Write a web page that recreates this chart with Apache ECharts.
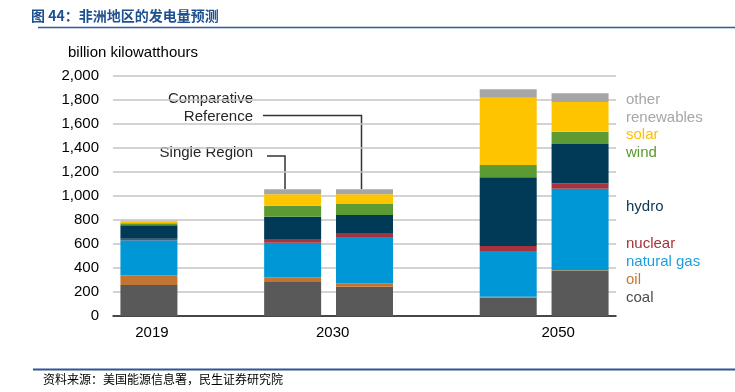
<!DOCTYPE html>
<html>
<head>
<meta charset="utf-8">
<script src="https://cdn.jsdelivr.net/npm/echarts@6/dist/echarts.min.js"></script>
<style>
html,body{margin:0;padding:0;background:#fff;}
#chart{width:735px;height:392px;}
</style>
</head>
<body>
<div id="chart"></div>
<script>
// Slots: 2019 | gap | 2030 Single Region | 2030 Comparative Reference | gap | 2050 Single Region | 2050 Comparative Reference
const categories = ['2019', 'gap1', '2030 Single Region', '2030 Comparative Reference', 'gap2', '2050 Single Region', '2050 Comparative Reference'];
const tickLabels = ['2019', '', '2030', '', '', '2050', ''];
const yTicks = [0, 200, 400, 600, 800, 1000, 1200, 1400, 1600, 1800, 2000];

const coal       = [258, null, 289, 244, null, 153, 375];
const oil        = [ 80, null,  33,  28, null,   8,   6];
const naturalGas = [294, null, 289, 386, null, 381, 680];
const nuclear    = [ 12, null,  25,  28, null,  41,  45];
const hydro      = [112, null, 192, 156, null, 573, 327];
const wind       = [ 17, null,  91,  91, null, 102, 103];
const solar      = [ 16, null,  95,  81, null, 561, 248];
const other      = [  4, null,  42,  42, null,  70,  72];

const seriesNames = ['coal', 'oil', 'natural gas', 'nuclear', 'hydro', 'wind', 'solar', 'other renewables'];
const seriesData = [coal, oil, naturalGas, nuclear, hydro, wind, solar, other];
const seriesColors = ['#595959', '#c27530', '#0097d7', '#a5343f', '#003a57', '#5c9a33', '#ffc400', '#a6a6a6'];

const FONT = '"Liberation Sans", Arial, sans-serif';
const chart = echarts.init(document.getElementById('chart'), null, {renderer: 'canvas'});

const labelShift = {0: 6, 2: 80, 5: 100};
const rich = {};
Object.keys(labelShift).forEach(k => { rich['s' + k] = {padding: [0, 0, 0, labelShift[k]], fontSize: 15, fontFamily: FONT, color: '#000'}; });

function txt(text, x, y, color, opts) {
  return Object.assign({
    type: 'text', x: x, y: y, silent: true,
    style: Object.assign({
      text: text, fill: color, font: '15px ' + FONT,
      align: 'left', textAlign: 'left', verticalAlign: 'middle', textVerticalAlign: 'middle'
    }, opts || {})
  });
}

const legendLabels = [
  ['other', 100, '#a6a6a6'],
  ['renewables', 117.7, '#a6a6a6'],
  ['solar', 135, '#ffc000'],
  ['wind', 152.7, '#5a9a2e'],
  ['hydro', 207, '#0d3550'],
  ['nuclear', 244, '#a4343c'],
  ['natural gas', 261.7, '#1a9fdc'],
  ['oil', 280, '#c4782e'],
  ['coal', 297.7, '#4d4d4d']
];

const graphics = [
  txt('图 44：非洲地区的发电量预测', 31, 16, '#1e4f8f', {font: 'bold 14px "Noto Sans CJK SC", sans-serif'}),
  {type: 'line', silent: true, shape: {x1: 38, y1: 27.5, x2: 735, y2: 27.5}, style: {stroke: '#2e5d9f', lineWidth: 1.5}},
  {type: 'line', silent: true, shape: {x1: 33, y1: 369.5, x2: 735, y2: 369.5}, style: {stroke: '#2f5597', lineWidth: 2}},
  txt('资料来源：美国能源信息署，民生证券研究院', 43, 379.5, '#000', {font: '12px "Noto Sans CJK SC", sans-serif'}),
  txt('billion kilowatthours', 68, 52.7, '#000'),
  txt('Comparative', 253, 99.3, '#262626', {align: 'right', textAlign: 'right'}),
  txt('Reference', 253, 117.3, '#262626', {align: 'right', textAlign: 'right'}),
  txt('Single Region', 253, 152.7, '#262626', {align: 'right', textAlign: 'right'}),
  {type: 'polyline', silent: true, shape: {points: [[263, 115.5], [361.5, 115.5], [361.5, 189]]}, style: {stroke: '#333', lineWidth: 1.5, fill: null}},
  {type: 'polyline', silent: true, shape: {points: [[267, 156], [285, 156], [285, 189]]}, style: {stroke: '#333', lineWidth: 1.5, fill: null}}
];
legendLabels.forEach(l => graphics.push(txt(l[0], 626, l[1], l[2])));

chart.setOption({
  animation: false,
  backgroundColor: '#fff',
  grid: {left: 113, right: 119, top: 76, bottom: 76, containLabel: false},
  xAxis: {
    type: 'category',
    data: categories,
    axisLine: {lineStyle: {color: '#1a1a1a', width: 1.5}},
    axisTick: {show: false},
    axisLabel: {
      interval: 0, margin: 9, fontSize: 15, fontFamily: FONT, color: '#000', rich: rich,
      formatter: (v, i) => tickLabels[i] ? '{s' + i + '|' + tickLabels[i] + '}' : ''
    },
    splitLine: {show: false}
  },
  yAxis: {
    type: 'value', min: yTicks[0], max: yTicks[yTicks.length - 1], interval: yTicks[1] - yTicks[0],
    axisLine: {show: false}, axisTick: {show: false},
    axisLabel: {margin: 14, fontSize: 15, fontFamily: FONT, color: '#000',
      formatter: v => v.toLocaleString('en-US')},
    splitLine: {lineStyle: {color: '#c4c4c4', width: 1.5}}
  },
  series: seriesNames.map((n, i) => ({
    name: n, type: 'bar', stack: 'total', barWidth: 57,
    data: seriesData[i],
    itemStyle: {color: seriesColors[i]},
    emphasis: {disabled: true}
  })),
  graphic: graphics
});
</script>
</body>
</html>
